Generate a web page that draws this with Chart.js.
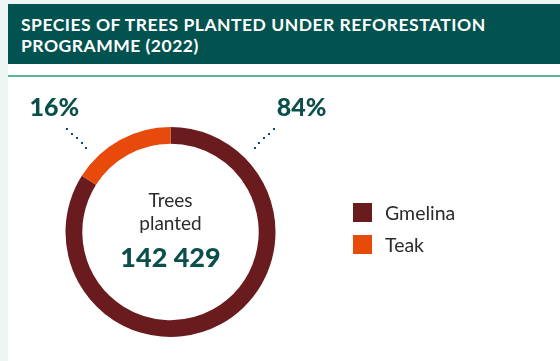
<!DOCTYPE html>
<html>
<head>
<meta charset="utf-8">
<script src="https://cdn.jsdelivr.net/npm/chart.js@4"></script>
<style>
  html, body {
    margin: 0;
    padding: 0;
    width: 560px;
    height: 361px;
    overflow: hidden;
    background: #eef5f5;
    font-family: Lato, "Noto Sans", sans-serif;
  }
  .panel {
    position: absolute;
    left: 8px;
    top: 4px;
    width: 552px;
    height: 357px;
    background: #ffffff;
  }
  .header {
    height: 60px;
    background: #02534f;
    color: #ffffff;
    font-weight: bold;
    font-size: 17.5px;
    line-height: 21px;
    letter-spacing: 0.5px;
    padding: 10px 0 0 13px;
    box-sizing: border-box;
  }
  .rule {
    position: absolute;
    left: 0;
    top: 71px;
    width: 552px;
    height: 2px;
    background: #5cb497;
  }
  #chart {
    position: absolute;
    left: 0;
    top: 0;
  }
  .legend {
    position: absolute;
    left: 353px;
    top: 203px;
  }
  .legend-item {
    display: flex;
    align-items: center;
    height: 19px;
    margin-bottom: 13px;
    font-size: 19.5px;
    color: #2b2b2b;
  }
  .legend-item span.box {
    width: 19px;
    height: 19px;
    margin-right: 13px;
  }
</style>
</head>
<body>
<div class="panel">
  <div class="header">SPECIES OF TREES PLANTED UNDER REFORESTATION<br>PROGRAMME (2022)</div>
  <div class="rule"></div>
</div>
<canvas id="chart" width="560" height="361"></canvas>
<div class="legend" id="legend"></div>

<script>
// species and their share of trees planted
const species = ["Gmelina", "Teak"];
const shares = [84, 16];
const colours = ["#6a1b1e", "#e84a0b"];
const totalPlanted = 142429;
const centerLines = ["Trees", "planted"];

// "142 429" style grouping
function formatTotal(n) {
  return String(n).replace(/\B(?=(\d{3})+(?!\d))/g, " ");
}

// legend on the right, built from the same arrays
const legendEl = document.getElementById("legend");
species.forEach((name, i) => {
  const item = document.createElement("div");
  item.className = "legend-item";
  item.innerHTML = '<span class="box" style="background:' + colours[i] + '"></span>' + name;
  legendEl.appendChild(item);
});

// text in the hole of the ring
const centerText = {
  id: "centerText",
  afterDraw(chart) {
    const arc = chart.getDatasetMeta(0).data[0];
    if (!arc) return;
    const ctx = chart.ctx;
    const x = arc.x, y = arc.y;
    ctx.save();
    ctx.textAlign = "center";
    ctx.textBaseline = "alphabetic";
    ctx.fillStyle = "#2b2b2b";
    ctx.font = "19px Lato";
    ctx.fillText(centerLines[0], x, y - 25);
    ctx.fillText(centerLines[1], x, y - 2);
    ctx.fillStyle = "#0b4f4a";
    ctx.font = "900 27px Lato";
    ctx.fillText(formatTotal(totalPlanted), x, y + 35);
    ctx.restore();
  }
};

// percentage callouts with dotted leaders on the upper diagonals
const pctLabels = {
  id: "pctLabels",
  afterDraw(chart) {
    const ctx = chart.ctx;
    const meta = chart.getDatasetMeta(0);
    meta.data.forEach((arc, i) => {
      const mid = (arc.startAngle + arc.endAngle) / 2;
      const side = Math.cos(mid) >= 0 ? 1 : -1;
      const ang = side > 0 ? -Math.PI / 4 : -3 * Math.PI / 4;
      const r0 = arc.outerRadius + 14;
      const r1 = arc.outerRadius + 41;
      ctx.save();
      ctx.fillStyle = "#0b4a73";
      const n = 5;
      for (let k = 0; k < n; k++) {
        const r = r0 + (r1 - r0) * k / (n - 1);
        const px = arc.x + Math.cos(ang) * r;
        const py = arc.y + Math.sin(ang) * r;
        ctx.fillRect(Math.round(px) - 1, Math.round(py) - 1, 2, 2);
      }
      const ex = arc.x + Math.cos(ang) * r1;
      const ey = arc.y + Math.sin(ang) * r1;
      ctx.fillStyle = "#0b4f4a";
      ctx.font = "900 25px Lato";
      ctx.textBaseline = "alphabetic";
      if (side > 0) {
        ctx.textAlign = "left";
        ctx.fillText(shares[i] + "%", ex + 3, ey - 13);
      } else {
        ctx.textAlign = "right";
        ctx.fillText(shares[i] + "%", ex + 12, ey - 13);
      }
      ctx.restore();
    });
  }
};

new Chart(document.getElementById("chart"), {
  type: "doughnut",
  data: {
    labels: species,
    datasets: [{
      data: shares,
      backgroundColor: colours,
      borderWidth: 0,
      hoverOffset: 0
    }]
  },
  options: {
    responsive: false,
    animation: false,
    cutout: "84%",
    layout: {
      padding: { left: 65, top: 127, right: 284, bottom: 24 }
    },
    plugins: {
      legend: { display: false },
      tooltip: { enabled: false }
    }
  },
  plugins: [centerText, pctLabels]
});
</script>
</body>
</html>
